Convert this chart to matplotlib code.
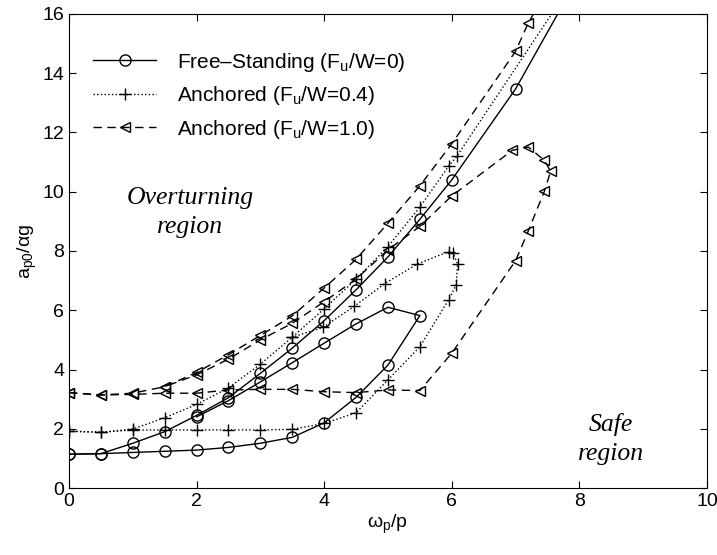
import matplotlib.pyplot as plt

plt.rcParams['font.family'] = ['Liberation Sans', 'DejaVu Sans']
plt.rcParams['mathtext.fontset'] = 'custom'
plt.rcParams['mathtext.rm'] = 'Liberation Sans'
plt.rcParams['mathtext.it'] = 'Liberation Sans'

# Free-standing (Fu/W=0): rising boundary and closed loop
free_up_x = [0, 0.5, 1, 1.5, 2, 2.5, 3, 3.5, 4, 4.5, 5, 5.5, 6, 7, 8]
free_up_y = [1.14, 1.16, 1.51, 1.9, 2.45, 3.05, 3.87, 4.72, 5.65, 6.69, 7.8, 9.07, 10.4, 13.47, 17.3]
free_loop_x = [0, 0.5, 1, 1.5, 2, 2.5, 3, 3.5, 4, 4.5, 5, 5.5,
               5, 4.5, 4, 3.5, 3, 2.5, 2]
free_loop_y = [1.14, 1.16, 1.2, 1.24, 1.28, 1.37, 1.51, 1.71, 2.2, 3.06, 4.15, 5.82,
               6.1, 5.54, 4.89, 4.23, 3.58, 2.95, 2.4]

# Anchored (Fu/W=0.4)
a04_up_x = [0, 0.5, 1, 1.5, 2, 2.5, 3, 3.5, 4, 4.5, 5, 5.5, 5.95, 6.08, 8]
a04_up_y = [1.92, 1.88, 1.99, 2.37, 2.82, 3.38, 4.18, 5.09, 6.05, 7.05, 8.15, 9.48, 10.86, 11.2, 17.4]
a04_loop_x = [0, 0.5, 1, 1.5, 2, 2.5, 3, 3.5, 4, 4.5, 5, 5.5, 5.95, 6.07, 6.09,
              6.02, 5.95, 5.45, 4.95, 4.47, 3.98, 3.5]
a04_loop_y = [1.92, 1.88, 1.96, 1.96, 1.96, 1.96, 1.96, 1.98, 2.18, 2.54, 3.65, 4.77, 6.35, 6.86, 7.57,
              7.94, 7.98, 7.55, 6.9, 6.13, 5.42, 5.09]

# Anchored (Fu/W=1.0)
a10_up_x = [0, 0.5, 1, 1.5, 2, 2.5, 3, 3.5, 4, 4.5, 5, 5.5, 6, 7, 7.2, 8]
a10_up_y = [3.22, 3.14, 3.2, 3.42, 3.9, 4.5, 5.15, 5.81, 6.75, 7.72, 8.94, 10.2, 11.62, 14.74, 15.7, 18.7]
a10_loop_x = [0, 0.5, 1, 1.5, 2, 2.5, 3, 3.5, 4, 4.5, 5, 5.5, 6, 7, 7.2, 7.45, 7.55,
              7.45, 7.2, 6.95, 6, 5.5, 5, 4.5, 4, 3.5, 3, 2.5, 2, 1.5]
a10_loop_y = [3.22, 3.14, 3.16, 3.2, 3.2, 3.31, 3.33, 3.33, 3.25, 3.22, 3.31, 3.29, 4.55, 7.67, 8.68, 10.01, 10.69,
              11.06, 11.51, 11.4, 9.86, 8.83, 8.04, 7.05, 6.29, 5.56, 5.0, 4.35, 3.82, 3.42]

labels = ['Free\u2013Standing (F$_\\mathregular{u}$/W=0)',
          'Anchored (F$_\\mathregular{u}$/W=0.4)',
          'Anchored (F$_\\mathregular{u}$/W=1.0)']

fig = plt.figure(figsize=(7.17, 5.55), dpi=100)
ax = fig.add_axes([0.0962, 0.1207, 0.8898, 0.8541])

kw = dict(color='black', markerfacecolor='none', markeredgecolor='black', linewidth=1.0)
ax.plot(free_up_x, free_up_y, '-', marker='o', markersize=8, label=labels[0], **kw)
ax.plot(free_loop_x, free_loop_y, '-', marker='o', markersize=8, **kw)
ax.plot(a04_up_x, a04_up_y, ':', marker='+', markersize=8, label=labels[1], **kw)
ax.plot(a04_loop_x, a04_loop_y, ':', marker='+', markersize=8, **kw)
ax.plot(a10_up_x, a10_up_y, '--', marker='<', markersize=7.5, dashes=(6, 4), label=labels[2], **kw)
ax.plot(a10_loop_x, a10_loop_y, '--', marker='<', markersize=7.5, dashes=(6, 4), **kw)

ax.set_xlim(0, 10)
ax.set_ylim(0, 16)
ax.set_xticks(range(0, 11, 2))
ax.set_yticks(range(0, 17, 2))
ax.tick_params(direction='in', top=True, right=True, labelsize=14, length=5)
ax.set_xlabel('\u03c9$_\\mathregular{p}$/p', fontsize=14, labelpad=2)
ax.set_ylabel('a$_\\mathregular{p0}$/\u03b1g', fontsize=14, labelpad=2)

ax.legend(loc='upper left', bbox_to_anchor=(0.025, 0.94), frameon=False, fontsize=15,
          handlelength=3, handletextpad=1.0, labelspacing=0.5, borderaxespad=0)

ax.text(1.9, 9.3, 'Overturning\nregion', fontsize=18.5, style='italic', family='Liberation Serif',
        ha='center', va='center', linespacing=1.4)
ax.text(8.5, 1.65, 'Safe\nregion', fontsize=18.5, style='italic', family='Liberation Serif',
        ha='center', va='center', linespacing=1.4)

fig.savefig('out.png', dpi=100, facecolor='white')
